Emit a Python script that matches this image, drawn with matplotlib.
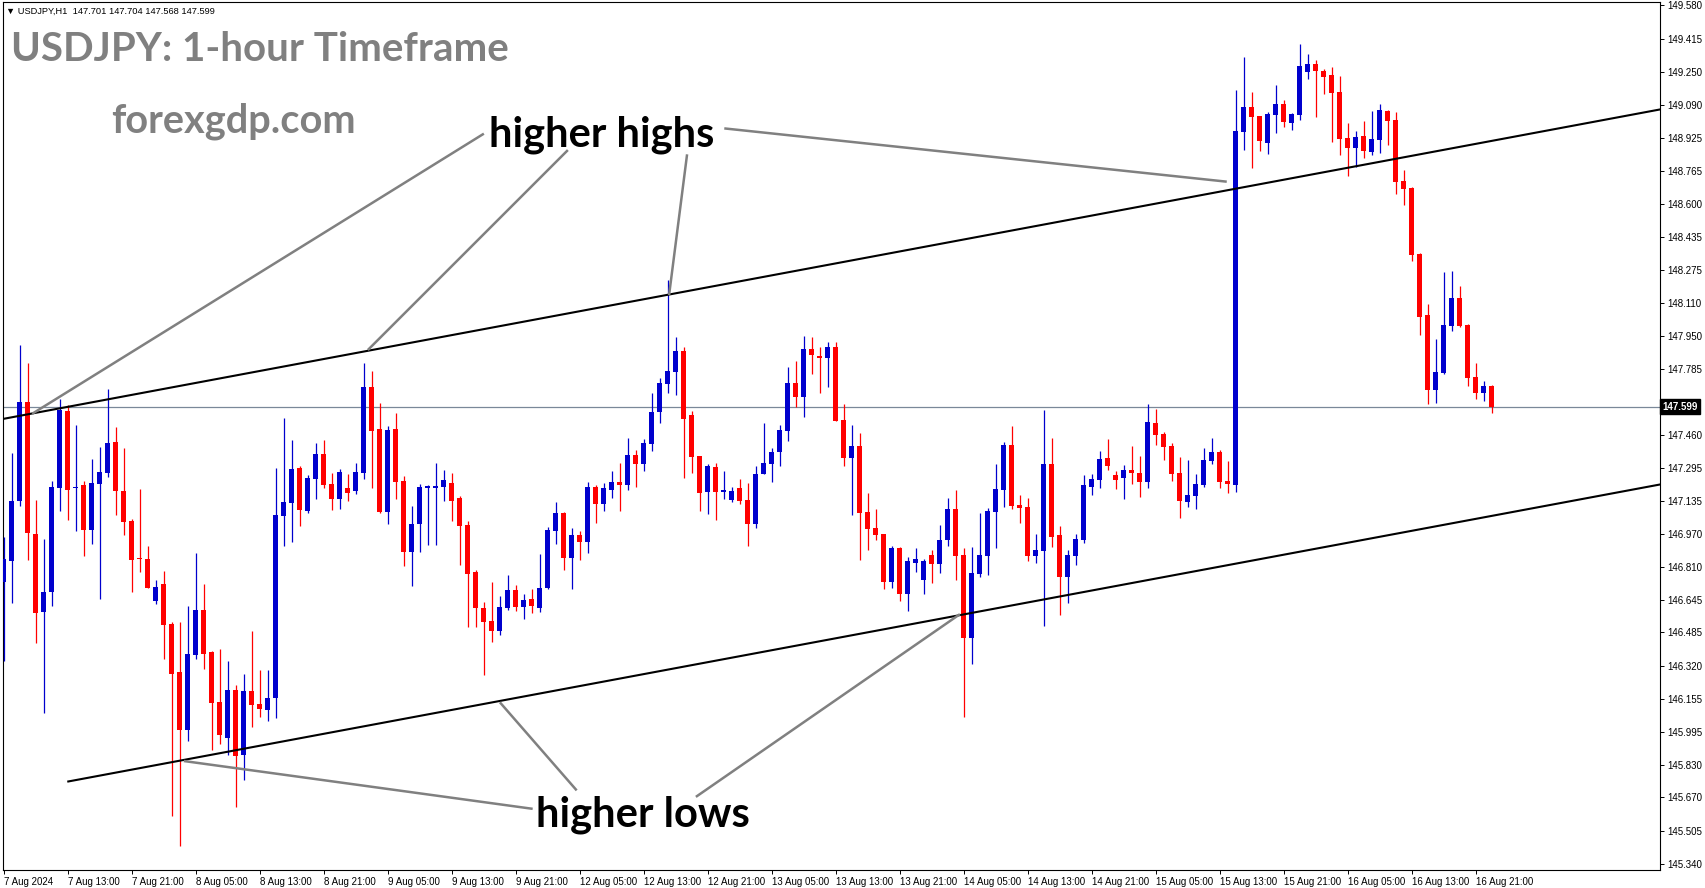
import matplotlib
matplotlib.use("Agg")
import matplotlib.pyplot as plt
import matplotlib.transforms as mtransforms
import numpy as np

# ---------------- data (USDJPY H1) ----------------
opens = [
    146.735, 146.835, 147.135, 147.623, 146.970, 146.584, 146.682, 147.200, 147.577, 147.199,
    147.212, 146.992, 147.218, 147.274, 147.425, 147.184, 147.035, 146.850, 146.848, 146.642,
    146.725, 146.527, 146.290, 146.001, 146.372, 146.597, 146.388, 146.142, 145.966, 146.201,
    145.879, 146.196, 146.132, 146.102, 146.163, 147.061, 147.126, 147.297, 147.084, 147.244,
    147.366, 147.218, 147.145, 147.198, 147.185, 147.274, 147.697, 147.489, 147.080, 147.489,
    147.233, 146.884, 147.022, 147.200, 147.200, 147.205, 147.223, 147.149, 147.015, 146.783,
    146.607, 146.543, 146.494, 146.607, 146.695, 146.612, 146.650, 146.607, 146.704, 146.986,
    147.075, 146.854, 146.966, 146.931, 147.203, 147.119, 147.188, 147.228, 147.213, 147.361,
    147.316, 147.417, 147.573, 147.713, 147.772, 147.874, 147.558, 147.356, 147.178, 147.302,
    147.178, 147.140, 147.198, 147.139, 147.020, 147.267, 147.316, 147.376, 147.479, 147.716,
    147.647, 147.884, 147.845, 147.840, 147.894, 147.534, 147.346, 147.405, 147.080, 147.001,
    146.971, 146.734, 146.902, 146.675, 146.828, 146.744, 146.867, 146.823, 146.941, 147.094,
    146.867, 146.458, 146.774, 146.862, 147.080, 147.188, 147.410, 147.114, 147.104, 146.862,
    146.887, 147.316, 146.966, 146.759, 146.862, 146.941, 147.203, 147.238, 147.346, 147.262,
    147.247, 147.287, 147.272, 147.228, 147.519, 147.465, 147.405, 147.272, 147.129, 147.158,
    147.213, 147.331, 147.376, 147.233, 147.213, 148.955, 149.079, 149.034, 148.901, 149.039,
    149.093, 149.000, 149.039, 149.251, 149.291, 149.256, 149.237, 149.153, 148.926, 148.876,
    148.935, 148.856, 148.916, 149.059, 149.014, 148.713, 148.679, 148.353, 148.052, 147.682,
    147.766, 147.998, 148.136, 148.003, 147.746, 147.667, 147.701,
]
highs = [
    146.957, 147.371, 147.905, 147.815, 147.138, 146.947, 147.233, 147.639, 147.608, 147.510,
    147.233, 147.342, 147.401, 147.686, 147.499, 147.396, 147.047, 147.195, 146.912, 146.744,
    146.789, 146.538, 146.538, 146.615, 146.877, 146.722, 146.393, 146.405, 146.346, 146.226,
    146.280, 146.493, 146.300, 146.300, 147.297, 147.544, 147.435, 147.307, 147.262, 147.420,
    147.435, 147.272, 147.292, 147.267, 147.321, 147.815, 147.776, 147.618, 147.504, 147.568,
    147.257, 147.109, 147.218, 147.213, 147.321, 147.287, 147.272, 147.159, 147.035, 146.795,
    146.637, 146.736, 146.667, 146.770, 146.719, 146.675, 146.699, 146.872, 147.005, 147.129,
    147.078, 147.001, 146.986, 147.228, 147.213, 147.223, 147.282, 147.321, 147.445, 147.386,
    147.440, 147.667, 147.741, 148.225, 147.943, 147.894, 147.578, 147.358, 147.316, 147.321,
    147.282, 147.203, 147.242, 147.223, 147.308, 147.519, 147.395, 147.509, 147.795, 147.825,
    147.948, 147.943, 147.894, 147.919, 147.919, 147.613, 147.509, 147.469, 147.173, 147.094,
    146.973, 146.912, 146.907, 146.857, 146.902, 146.848, 146.892, 147.015, 147.149, 147.188,
    146.902, 146.907, 147.075, 147.099, 147.316, 147.425, 147.504, 147.163, 147.149, 146.971,
    147.583, 147.445, 147.010, 146.892, 146.971, 147.262, 147.267, 147.381, 147.440, 147.282,
    147.312, 147.405, 147.356, 147.613, 147.588, 147.474, 147.420, 147.351, 147.336, 147.267,
    147.395, 147.445, 147.386, 147.331, 149.162, 149.325, 149.153, 149.036, 149.054, 149.187,
    149.113, 149.049, 149.389, 149.340, 149.310, 149.266, 149.276, 149.232, 149.000, 148.960,
    149.009, 149.059, 149.093, 149.064, 149.054, 148.768, 148.684, 148.358, 148.106, 147.933,
    148.264, 148.269, 148.195, 148.008, 147.815, 147.726, 147.704,
]
lows = [
    146.343, 146.631, 147.110, 146.840, 146.435, 146.085, 146.616, 147.086, 147.040, 146.987,
    146.864, 146.923, 146.652, 147.252, 147.065, 146.964, 146.682, 146.783, 146.702, 146.623,
    146.352, 145.581, 145.429, 145.951, 146.352, 146.306, 145.906, 145.936, 145.879, 145.625,
    145.754, 146.016, 146.065, 146.050, 146.060, 146.913, 146.933, 147.012, 147.076, 147.145,
    147.200, 147.091, 147.096, 147.136, 147.167, 147.244, 147.200, 147.076, 147.022, 147.145,
    146.815, 146.716, 146.884, 146.918, 146.918, 147.136, 147.037, 146.820, 146.510, 146.510,
    146.273, 146.440, 146.474, 146.597, 146.592, 146.553, 146.583, 146.588, 146.700, 146.922,
    146.793, 146.701, 146.843, 146.877, 147.025, 147.084, 147.149, 147.084, 147.188, 147.203,
    147.282, 147.381, 147.519, 147.667, 147.657, 147.247, 147.272, 147.084, 147.070, 147.040,
    147.144, 147.129, 147.119, 146.912, 147.001, 147.265, 147.228, 147.307, 147.430, 147.598,
    147.548, 147.761, 147.667, 147.697, 147.527, 147.307, 147.065, 146.843, 146.892, 146.941,
    146.699, 146.704, 146.640, 146.591, 146.783, 146.675, 146.729, 146.778, 146.912, 146.744,
    146.068, 146.329, 146.759, 146.769, 146.902, 147.104, 147.094, 147.025, 146.838, 146.828,
    146.517, 146.907, 146.571, 146.630, 146.818, 146.926, 147.163, 147.198, 147.287, 147.193,
    147.144, 147.218, 147.154, 147.198, 147.410, 147.336, 147.233, 147.050, 147.104, 147.094,
    147.203, 147.316, 147.198, 147.173, 147.178, 148.866, 148.777, 148.861, 148.847, 148.950,
    148.980, 148.965, 149.014, 149.217, 149.029, 149.143, 148.906, 148.842, 148.738, 148.782,
    148.827, 148.842, 148.851, 148.891, 148.649, 148.595, 148.318, 147.953, 147.613, 147.618,
    147.761, 147.973, 147.993, 147.701, 147.637, 147.627, 147.568,
]
closes = [
    146.848, 147.134, 147.623, 146.977, 146.580, 146.685, 147.204, 147.583, 147.190, 147.202,
    146.992, 147.223, 147.277, 147.420, 147.181, 147.032, 146.840, 146.845, 146.706, 146.710,
    146.523, 146.282, 146.001, 146.378, 146.597, 146.380, 146.138, 145.976, 146.201, 145.873,
    146.196, 146.129, 146.107, 146.161, 147.065, 147.127, 147.292, 147.091, 147.247, 147.366,
    147.214, 147.145, 147.277, 147.175, 147.277, 147.697, 147.481, 147.080, 147.484, 147.229,
    146.884, 147.022, 147.203, 147.208, 147.208, 147.238, 147.136, 147.012, 146.775, 146.607,
    146.538, 146.494, 146.611, 146.696, 146.612, 146.645, 146.617, 146.704, 146.991, 147.075,
    146.854, 146.966, 146.931, 147.203, 147.119, 147.198, 147.228, 147.213, 147.361, 147.316,
    147.420, 147.573, 147.716, 147.775, 147.874, 147.538, 147.351, 147.175, 147.307, 147.178,
    147.188, 147.183, 147.135, 147.020, 147.267, 147.321, 147.376, 147.484, 147.716, 147.647,
    147.884, 147.854, 147.841, 147.894, 147.529, 147.346, 147.405, 147.075, 146.996, 146.966,
    146.734, 146.902, 146.675, 146.838, 146.848, 146.838, 146.823, 146.941, 147.094, 146.862,
    146.458, 146.778, 146.867, 147.084, 147.193, 147.410, 147.109, 147.099, 146.862, 146.892,
    147.316, 146.956, 146.759, 146.867, 146.946, 147.213, 147.242, 147.341, 147.307, 147.238,
    147.287, 147.272, 147.228, 147.524, 147.460, 147.400, 147.267, 147.134, 147.163, 147.218,
    147.336, 147.376, 147.228, 147.218, 148.960, 149.079, 149.029, 148.911, 149.044, 149.093,
    149.005, 149.044, 149.281, 149.291, 149.256, 149.227, 149.148, 148.921, 148.876, 148.931,
    148.861, 148.921, 149.064, 149.009, 148.708, 148.674, 148.348, 148.042, 147.682, 147.771,
    148.003, 148.136, 147.998, 147.741, 147.667, 147.701, 147.599,
]

time_labels = [
    "7 Aug 2024", "7 Aug 13:00", "7 Aug 21:00", "8 Aug 05:00", "8 Aug 13:00", "8 Aug 21:00",
    "9 Aug 05:00", "9 Aug 13:00", "9 Aug 21:00", "12 Aug 05:00", "12 Aug 13:00", "12 Aug 21:00",
    "13 Aug 05:00", "13 Aug 13:00", "13 Aug 21:00", "14 Aug 05:00", "14 Aug 13:00", "14 Aug 21:00",
    "15 Aug 05:00", "15 Aug 13:00", "15 Aug 21:00", "16 Aug 05:00", "16 Aug 13:00", "16 Aug 21:00",
]
time_label_pos = list(range(0, 185, 8))

price_ticks = [149.580, 149.415, 149.250, 149.090, 148.925, 148.765, 148.600, 148.435, 148.275,
               148.110, 147.950, 147.785, 147.625, 147.460, 147.295, 147.135, 146.970, 146.810,
               146.645, 146.485, 146.320, 146.155, 145.995, 145.830, 145.670, 145.505, 145.340]
hidden_tick = 147.625   # covered by the current-price marker

last_price = 147.599
header_text = "\u25bc USDJPY,H1  147.701 147.704 147.568 147.599"

# channel lines: two points each (candle index, price)
upper_channel = [(-0.475, 147.536), (187.0, 148.919)]
lower_channel = [(8.06, 145.749), (157.05, 146.847)]

# grey pointer lines (candle index, price)
highs_pointers = [((60.0, 148.947), (3.54, 147.564)),
                  ((70.5, 148.866), (45.5, 147.879)),
                  ((85.4, 148.845), (83.15, 148.150)),
                  ((90.05, 148.973), (152.85, 148.710))]
lows_pointers = [((66.1, 145.614), (22.5, 145.850)),
                 ((71.6, 145.705), (62.0, 146.140)),
                 ((86.5, 145.673), (119.5, 146.575))]

# ---------------- drawing ----------------
W, H = 1705, 888
BLUE = "#0000CD"
RED = "#FF0000"
GREY = "#808080"

fig = plt.figure(figsize=(W / 100, H / 100), dpi=100)
fig.patch.set_facecolor("white")
ax = fig.add_axes([3 / W, 1 - 870 / H, 1657 / W, 868 / H])

o = np.array(opens); hi = np.array(highs); lo = np.array(lows); c = np.array(closes)
x = np.arange(len(o))
cols = np.where(c >= o, BLUE, RED)

ax.axhline(last_price, color="#7A8899", lw=0.9, zorder=1)
ax.vlines(x, lo, hi, colors=cols, lw=0.9, zorder=3)
ax.bar(x, np.maximum(np.abs(c - o), 0.006), bottom=np.minimum(o, c), width=0.625,
       color=cols, linewidth=0, zorder=4)

ax.axline(upper_channel[0], upper_channel[1], color="black", lw=1.5, zorder=5)
(lx0, ly0), (lx1, ly1) = lower_channel
slope = (ly1 - ly0) / (lx1 - lx0)
ax.plot([lx0, 230], [ly0, ly0 + slope * (230 - lx0)], color="black", lw=1.5, zorder=5)

for a, b in highs_pointers + lows_pointers:
    ax.plot([a[0], b[0]], [a[1], b[1]], color=GREY, lw=1.8, zorder=6, solid_capstyle="butt")

ax.set_xlim(-0.1, 207.0)
ax.set_ylim(145.312, 149.597)

tick_font = ["Liberation Sans", "DejaVu Sans"]
ax.set_xticks(time_label_pos)
ax.set_xticklabels(time_labels, ha="left", family=tick_font)
ax.yaxis.tick_right()
ax.set_yticks(price_ticks)
ax.set_yticklabels(["" if v == hidden_tick else f"{v:.3f}" for v in price_ticks],
                   family=tick_font)
ax.tick_params(axis="both", labelsize=7, length=3, width=0.7, direction="out",
               color="black", pad=2)
for s in ax.spines.values():
    s.set_linewidth(0.8)
    s.set_color("black")

trans = mtransforms.blended_transform_factory(ax.transAxes, ax.transData)
ax.text(1.0015, last_price, "147.599", transform=trans, ha="left", va="center",
        color="white", fontsize=7, family=tick_font, weight="bold", zorder=10, clip_on=False,
        bbox=dict(facecolor="black", edgecolor="black", pad=1.6))

renderer = fig.canvas.get_renderer()


def fit_text(s, left, baseline, width, color, family, weight="bold"):
    t = fig.text(left / W, 1 - baseline / H, s, fontsize=20, ha="left", va="baseline",
                 color=color, family=family, weight=weight, zorder=20)
    bb = t.get_window_extent(renderer)
    t.set_fontsize(20 * width / bb.width)
    return t


big_font = ["Lato", "Liberation Sans", "DejaVu Sans"]
fit_text(header_text, 6, 14, 209, "black", ["Liberation Sans", "DejaVu Sans"], weight="normal")
fit_text("USDJPY: 1-hour Timeframe", 11, 61, 498, GREY, big_font)
fit_text("forexgdp.com", 111, 132, 245, GREY, big_font)
fit_text("higher highs", 489, 146, 225, "black", big_font)
fit_text("higher lows", 536, 826, 214, "black", big_font)

fig.savefig("out.png", dpi=100, facecolor="white")
